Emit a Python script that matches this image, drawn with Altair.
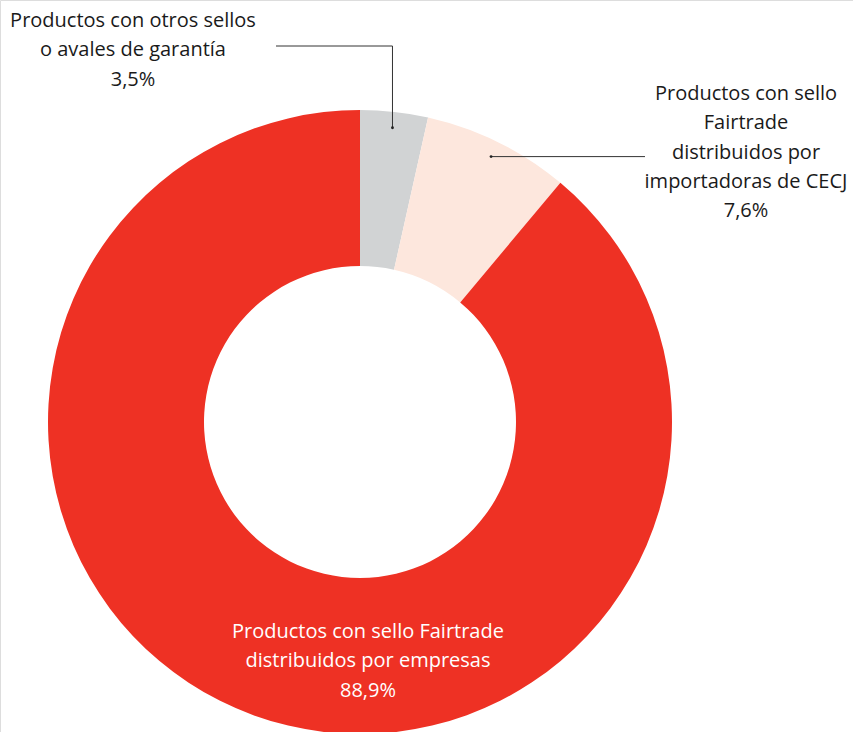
import math
import altair as alt
import pandas as pd

# ---- data ----
categories = [
    "Productos con otros sellos o avales de garantía",
    "Productos con sello Fairtrade distribuidos por importadoras de CECJ",
    "Productos con sello Fairtrade distribuidos por empresas",
]
values = [3.5, 7.6, 88.9]
value_labels = ["3,5%", "7,6%", "88,9%"]
label_lines = [
    ["Productos con otros sellos", "o avales de garantía"],
    ["Productos con sello", "Fairtrade", "distribuidos por", "importadoras de CECJ"],
    ["Productos con sello Fairtrade", "distribuidos por empresas"],
]
colors = ["#D1D3D4", "#FDE7DD", "#EE3124"]
text_colors = ["#1a1a1a", "#1a1a1a", "#ffffff"]

# ---- layout ----
W, H = 853, 732
CX, CY = 360, 422
R_OUT, R_IN = 312, 156
R_DOT = 296
FONT = "Open Sans"
FS = 20
LH = 29.3

df = pd.DataFrame({"categoria": categories, "valor": values, "orden": [0, 1, 2]})

# mid-angle dots from the data
cum = 0.0
dots = []
for v in values:
    mid = (cum + v / 2) / sum(values) * 2 * math.pi
    dots.append((CX + R_DOT * math.sin(mid), CY - R_DOT * math.cos(mid)))
    cum += v

label_pos = [(133, 27), (746, 100), (368, 638)]

txt_rows = []
for i in range(3):
    lines = label_lines[i] + [value_labels[i]]
    txt_rows.append({
        "x": label_pos[i][0], "y": label_pos[i][1],
        "t": "\n".join(lines), "c": text_colors[i],
    })
txt_df = pd.DataFrame(txt_rows)

seg_rows = [
    {"x": 276, "y": 46, "x2": dots[0][0], "y2": 46},
    {"x": dots[0][0], "y": 46, "x2": dots[0][0], "y2": dots[0][1]},
    {"x": dots[1][0], "y": dots[1][1], "x2": 645, "y2": dots[1][1]},
]
seg_df = pd.DataFrame(seg_rows)
dot_df = pd.DataFrame({"x": [d[0] for d in dots[:2]], "y": [d[1] for d in dots[:2]]})

xs = alt.Scale(domain=[0, W], range=[0, W], zero=False, nice=False)
ys = alt.Scale(domain=[0, H], range=[0, H], zero=False, nice=False)

pie = alt.Chart(df).mark_arc(outerRadius=R_OUT, innerRadius=R_IN).encode(
    theta=alt.Theta("valor:Q", stack=True),
    order=alt.Order("orden:Q"),
    color=alt.Color("categoria:N", scale=alt.Scale(domain=categories, range=colors), legend=None),
    x=alt.value(CX),
    y=alt.value(CY),
)

rules = alt.Chart(seg_df).mark_rule(color="#333333", strokeWidth=1).encode(
    x=alt.X("x:Q", scale=xs, axis=None),
    y=alt.Y("y:Q", scale=ys, axis=None),
    x2="x2:Q",
    y2="y2:Q",
)

pts = alt.Chart(dot_df).mark_point(filled=True, size=8, color="#222222", opacity=1).encode(
    x=alt.X("x:Q", scale=xs, axis=None),
    y=alt.Y("y:Q", scale=ys, axis=None),
)

texts = alt.Chart(txt_df).mark_text(
    font=FONT, fontSize=FS, lineBreak="\n", lineHeight=LH,
    align="center", baseline="alphabetic",
).encode(
    x=alt.X("x:Q", scale=xs, axis=None),
    y=alt.Y("y:Q", scale=ys, axis=None),
    text="t:N",
    color=alt.Color("c:N", scale=None),
)

chart = alt.layer(pie, rules, pts, texts).properties(
    width=W, height=H, padding=0, autosize=alt.AutoSizeParams(type="none"),
).configure_view(stroke=None).configure(background="white")

chart.save("out.html", embed_options={"renderer": "svg", "actions": False})
